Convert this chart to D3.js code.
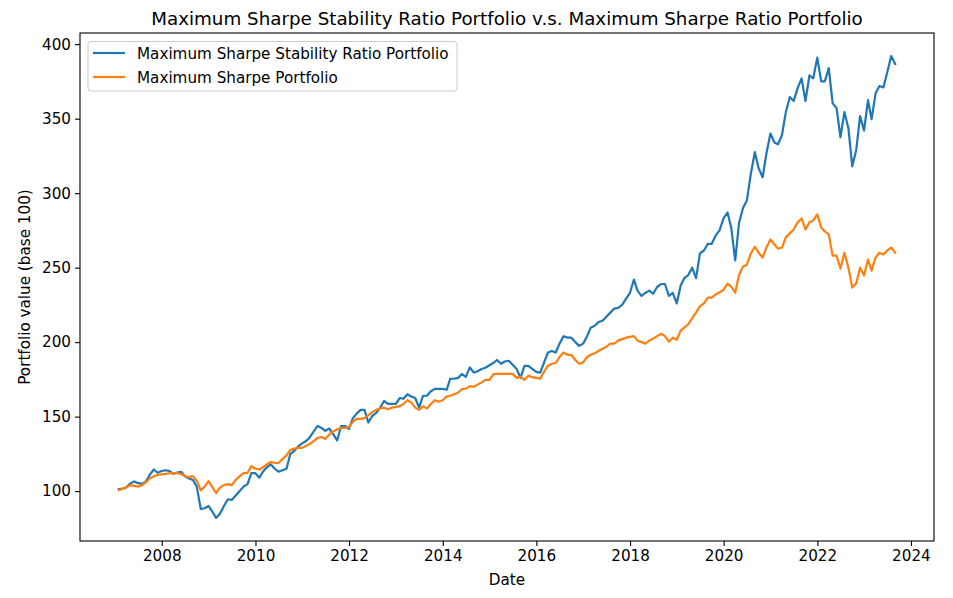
<!DOCTYPE html>
<html>
<head>
<meta charset="utf-8">
<script src="https://cdn.jsdelivr.net/npm/d3@7"></script>
<style>
  html, body { margin: 0; padding: 0; background: #fff; }
  svg { display: block; font-family: "DejaVu Sans", sans-serif; }
</style>
</head>
<body>
<svg id="chart" width="953" height="598"></svg>
<script>
// ---- data (monthly, month-end, starting Jan 2007) ----
const startYear = 2007, startMonth = 0;
const stabilitySeries = [
  101.3,101.7,102.5,105,106.5,105.3,104.8,106.5,111,114.5,112.3,113.5,
  114,113.5,111.5,112.5,113,110,108.5,107.5,103,88,88.5,90,
  86,82,85,90,94.5,94,97,100,103,104.7,112,112,
  109,113,116,118,115,113,114,115,125,127,130,132,
  133.6,136,140,143.7,142.4,140.5,142,138,134,143.7,143.7,141.7,
  149,152,154.5,154.5,146,150.5,152.5,156,160.5,158.5,158.5,158.5,
  162.5,162,165,163.5,162.5,156,164,164,167,168.6,168.6,168.6,
  168,175.4,175.4,176,178.5,176.7,183,179.6,180.5,182,182.8,184.5,
  186,188,185.5,187,187.5,184.8,182,176,184,184,182,180,
  179.5,186,193,194,193,199,204,203,203,200,197.5,199,
  204,209.7,211,213.5,214.4,217,219.8,222.5,223,225,229,233,
  242,234.6,231,233,234.6,232.5,237,239,239,231,233,226,
  238,243,245,250,243,259.5,261.5,266,266,271.6,275,283,
  287,277,254.8,280,290,295,313,327.5,316.7,310.6,326.8,340,
  334,332.8,339,354.4,364.5,361.8,370.5,377,361.8,379,377,391,
  375,375,384,360.4,357,337.5,354.4,343.6,318,328.8,351.7,342,
  362.4,349.7,367,371.9,371,381,392,386.7
];
const sharpeSeries = [
  100.7,101.5,102.5,104,103.5,103,104,106,108.5,110,110.8,111.2,
  111.6,112,112.1,112.1,111.5,110,109.4,110,107,100.5,103,106.7,
  102.5,98.7,102.5,104,104.7,104,107.5,110,112,112.2,116.8,115,
  114.5,116,118,119.5,119,118.8,121.5,124,127.6,128.5,129,129,
  130.5,131.6,133.5,135.7,136.3,135,138,140,141.5,142.4,142.4,143,
  146.5,148.5,148.5,149,151,153,154.5,155.5,156,155,156,156.5,
  157,158.5,161,159.5,156,154.5,157,155.5,158.5,161,160,161,
  163.5,164,165,166,168.5,168.8,170.5,170,171.5,173,174.7,174.7,
  178.5,178.7,178.7,178.7,178.7,178.7,176,176.7,174.7,177.4,176.5,176,
  175.5,180,184,185.5,186,190,193,191.5,191.5,188,185.5,186.4,
  190,191.5,192.5,194,195.5,197,199,199,201,202,203,203.5,
  204,201,200,199,201,202.3,204,205.6,204,200.3,203,201.6,
  207.7,209.7,212,216,220,224,226,229.9,229.9,232,233.5,235,
  239.3,237.2,233.2,245,250.7,252,259.5,264,260,256.8,263.5,268.9,
  265.5,262.8,263.5,270.3,273,275.6,280.4,283,275.6,280.4,281.7,285.7,
  277,274.3,272.3,258,258,249.4,260,250,236.6,239.3,250,244.7,
  255.4,248,256.8,260,258.8,261.5,263.5,260
];
const seriesNames = ["Maximum Sharpe Stability Ratio Portfolio", "Maximum Sharpe Portfolio"];
const xTickYears = [2008, 2010, 2012, 2014, 2016, 2018, 2020, 2022, 2024];
const yTickValues = [100, 150, 200, 250, 300, 350, 400];
const titleText = "Maximum Sharpe Stability Ratio Portfolio v.s. Maximum Sharpe Ratio Portfolio";
const xLabelText = "Date";
const yLabelText = "Portfolio value (base 100)";

// ---- layout ----
const W = 953, H = 598;
const M = { left: 80, right: 934, top: 33, bottom: 541 };
const colors = ["#1f77b4", "#ff7f0e"];
const FS = 15.2, FT = 18.3;

const dates = stabilitySeries.map((_, i) => new Date(startYear, startMonth + i + 1, 0));
const seriesList = [stabilitySeries, sharpeSeries];

const svg = d3.select("#chart");

// x domain with 5% margins (matplotlib style)
const t0 = +dates[0], t1 = +dates[dates.length - 1];
const tp = (t1 - t0) * 0.05;
const x = d3.scaleTime().domain([new Date(t0 - tp), new Date(t1 + tp)]).range([M.left, M.right]);

const allVals = stabilitySeries.concat(sharpeSeries);
const vmin = d3.min(allVals), vmax = d3.max(allVals);
const vp = (vmax - vmin) * 0.05;
const y = d3.scaleLinear().domain([vmin - vp, vmax + vp]).range([M.bottom, M.top]);

// clip
svg.append("defs").append("clipPath").attr("id", "clip")
  .append("rect").attr("x", M.left).attr("y", M.top)
  .attr("width", M.right - M.left).attr("height", M.bottom - M.top);

// lines
const line = d3.line().x((d, i) => x(dates[i])).y(d => y(d));
seriesList.forEach((s, k) => {
  svg.append("path")
    .datum(s)
    .attr("clip-path", "url(#clip)")
    .attr("fill", "none")
    .attr("stroke", colors[k])
    .attr("stroke-width", 2.2)
    .attr("stroke-linejoin", "round")
    .attr("stroke-linecap", "square")
    .attr("d", line);
});

// axes
const xAxis = d3.axisBottom(x)
  .tickValues(xTickYears.map(yr => new Date(yr, 0, 1)))
  .tickFormat(d3.timeFormat("%Y"))
  .tickSize(5).tickPadding(4);
const yAxis = d3.axisLeft(y)
  .tickValues(yTickValues)
  .tickFormat(d3.format("d"))
  .tickSize(5).tickPadding(4);

const gx = svg.append("g").attr("transform", `translate(0,${M.bottom})`).call(xAxis);
const gy = svg.append("g").attr("transform", `translate(${M.left},0)`).call(yAxis);
[gx, gy].forEach(g => {
  g.select(".domain").remove();
  g.selectAll(".tick line").attr("stroke", "#000").attr("stroke-width", 1.1);
  g.selectAll(".tick text").attr("fill", "#000").style("font-size", FS + "px")
    .style("font-family", "DejaVu Sans, sans-serif");
});

// frame
svg.append("rect")
  .attr("x", M.left).attr("y", M.top)
  .attr("width", M.right - M.left).attr("height", M.bottom - M.top)
  .attr("fill", "none").attr("stroke", "#000").attr("stroke-width", 1.1);

// title & labels
svg.append("text").attr("x", (M.left + M.right) / 2).attr("y", 25)
  .attr("text-anchor", "middle").style("font-size", FT + "px").attr("fill", "#000")
  .text(titleText);
svg.append("text").attr("x", (M.left + M.right) / 2).attr("y", 585)
  .attr("text-anchor", "middle").style("font-size", FS + "px").attr("fill", "#000")
  .text(xLabelText);
svg.append("text")
  .attr("transform", `translate(30,${(M.top + M.bottom) / 2}) rotate(-90)`)
  .attr("text-anchor", "middle").style("font-size", FS + "px").attr("fill", "#000")
  .text(yLabelText);

// legend
const lg = svg.append("g");
lg.append("rect").attr("x", 88).attr("y", 41.5).attr("width", 369).attr("height", 49.5)
  .attr("rx", 3).attr("ry", 3)
  .attr("fill", "#fff").attr("fill-opacity", 0.8)
  .attr("stroke", "#cccccc").attr("stroke-width", 1);
seriesNames.forEach((name, k) => {
  const cy = 53 + k * 24;
  lg.append("line").attr("x1", 93).attr("x2", 125).attr("y1", cy).attr("y2", cy)
    .attr("stroke", colors[k]).attr("stroke-width", 2.2);
  lg.append("text").attr("x", 137).attr("y", cy + 5.5)
    .style("font-size", FS + "px").attr("fill", "#000").text(name);
});
</script>
</body>
</html>
